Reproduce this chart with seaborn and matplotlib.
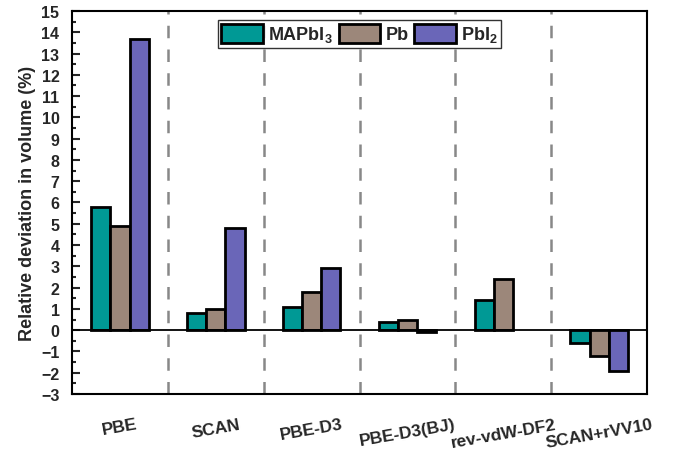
import numpy as np
import pandas as pd
import matplotlib
matplotlib.use("Agg")
import matplotlib.pyplot as plt
import seaborn as sns
from matplotlib.ticker import MultipleLocator

methods = ["PBE", "SCAN", "PBE-D3", "PBE-D3(BJ)", "rev-vdW-DF2", "SCAN+rVV10"]
mapbi3 = [5.8, 0.8, 1.1, 0.4, 1.4, -0.6]
pb = [4.9, 1.0, 1.8, 0.5, 2.4, -1.2]
pbi2 = [13.7, 4.8, 2.9, -0.1, np.nan, -1.9]
series_names = ["MAPbI$_3$", "Pb", "PbI$_2$"]
colors = ["#009995", "#9c877a", "#6a66b8"]
yticks = list(range(-3, 16))

sns.set_theme(style="white")
plt.rcParams['font.family'] = ['Liberation Sans', 'DejaVu Sans']
plt.rcParams['font.weight'] = 'bold'
plt.rcParams['mathtext.default'] = 'regular'

rows = []
for name, vals in zip(series_names, [mapbi3, pb, pbi2]):
    for m, v in zip(methods, vals):
        rows.append({"method": m, "series": name, "value": v})
df = pd.DataFrame(rows)

fig = plt.figure(figsize=(6.86, 4.52), dpi=100)
ax = fig.add_axes([72/686, 1-395/452, (647-72)/686, (395-12)/452])

sns.barplot(data=df, x="method", y="value", hue="series", order=methods,
            hue_order=series_names, palette=colors, width=0.6,
            edgecolor="black", linewidth=2, saturation=1, ax=ax, errorbar=None)

ax.set_xlim(-0.5, 5.5)
ax.set_ylim(-3, 15)
ax.axhline(0, color="black", lw=1.3, zorder=1)
for x in np.arange(0.5, 5.5, 1):
    ax.axvline(x, color="#888888", lw=1.8, ls=(0, (5, 4.5)), zorder=0)

ax.set_yticks(yticks)
ax.yaxis.set_minor_locator(MultipleLocator(0.5))
ax.tick_params(axis="y", which="major", direction="in", length=6, width=1.5,
               left=True, right=False, labelsize=11.5, pad=9)
ax.tick_params(axis="y", which="minor", direction="in", length=3, width=1.5,
               left=True, right=False)
ax.tick_params(axis="x", which="both", bottom=False, top=False, labelsize=12.5, pad=10)
for lab in ax.get_xticklabels():
    lab.set_rotation(10)
    lab.set_fontweight("bold")
for lab in ax.get_yticklabels():
    lab.set_fontweight("bold")

ax.set_xlabel("")
ax.set_ylabel("Relative deviation in volume (%)", fontsize=13, fontweight="bold", labelpad=4)
for s in ax.spines.values():
    s.set_linewidth(1.5)
    s.set_color("black")

leg = ax.legend(loc="upper center", bbox_to_anchor=(0.5, 0.976), ncol=3,
                frameon=True, fancybox=False, edgecolor="black",
                prop={"weight": "bold", "size": 13}, handlelength=2.3,
                handleheight=1.25, columnspacing=0.3, handletextpad=0.3,
                borderpad=0.2, borderaxespad=0.0)
leg.get_frame().set_linewidth(1.0)

fig.savefig("out.png", dpi=100)
